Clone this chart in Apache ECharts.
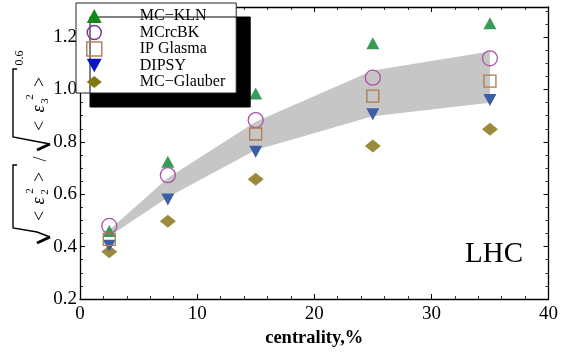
<!DOCTYPE html>
<html>
<head>
<meta charset="utf-8">
<script src="https://cdn.jsdelivr.net/npm/echarts@6/dist/echarts.min.js"></script>
<style>
  html, body { margin: 0; padding: 0; background: #fff; }
  #chart { width: 561px; height: 354px; }
</style>
</head>
<body>
<div id="chart"></div>
<script>
// Centrality bins (%)
const centrality = [2.5, 7.5, 15, 25, 35];
const ipCentrality = [2.5, 15, 25, 35];

// Eccentricity ratio sqrt(<e2^2>) / sqrt(<e3^2>)^0.6 per model
const mcKln     = [0.460, 0.724, 0.985, 1.177, 1.253];
const mcRcBk    = [0.479, 0.673, 0.883, 1.045, 1.119];
const ipGlasma  = [0.428, 0.830, 0.975, 1.032];
const dipsy     = [0.403, 0.580, 0.762, 0.905, 0.960];
const mcGlauber = [0.380, 0.497, 0.657, 0.784, 0.848];

// Grey band (lower / upper edge)
const bandLow  = [0.440, 0.589, 0.769, 0.898, 0.949];
const bandHigh = [0.463, 0.662, 0.877, 1.073, 1.145];

const xTicks = { min: 0, max: 40, step: 10 };
const yTicks = { min: 0.2, max: 1.315, step: 0.2 };

const seriesNames = ['MC\u2212KLN', 'MCrcBK', 'IP Glasma', 'DIPSY', 'MC\u2212Glauber'];

const SERIF = '"Liberation Serif", "Times New Roman", serif';
const pairs = (xs, ys) => xs.map((x, i) => [x, ys[i]]);
const invTriangle = 'path://M0,0 L10,0 L5,9 Z';
const diamond = 'path://M5,0 L10,4 L5,8 L0,4 Z';

const chart = echarts.init(document.getElementById('chart'), null, { renderer: 'canvas' });

const axisCommon = {
  axisLine: { show: true, onZero: false, lineStyle: { color: '#000', width: 1.3 } },
  axisTick: { show: true, inside: true, length: 5, lineStyle: { color: '#000', width: 1 } },
  minorTick: { show: true, length: 3, lineStyle: { color: '#000', width: 0.8 } },
  splitLine: { show: false },
  minorSplitLine: { show: false }
};

const rotText = (t, x, y, font) => ({
  type: 'text', x: x, y: y, rotation: Math.PI / 2, z: 10,
  style: { text: t, font: font, fill: '#000', align: 'center', verticalAlign: 'middle' }
});
const MAIN = '18px ' + SERIF;
const EPS = 'italic 18px ' + SERIF;
const SMALL = '11px ' + SERIF;

// Band drawn as one polygon: lower edge forward, upper edge backward
function renderBand(params, api) {
  if (params.dataIndex !== 0) return null;
  const pts = [];
  for (let i = 0; i < centrality.length; i++) pts.push(api.coord([centrality[i], bandLow[i]]));
  for (let i = centrality.length - 1; i >= 0; i--) pts.push(api.coord([centrality[i], bandHigh[i]]));
  return {
    type: 'polygon',
    shape: { points: pts },
    style: { fill: '#c6c6c6', stroke: null }
  };
}

const option = {
  backgroundColor: '#fff',
  animation: false,
  grid: { left: 80, right: 11, top: 7, bottom: 55, containLabel: false },
  legend: {
    orient: 'vertical',
    left: 76, top: 3,
    padding: [5, 11, 3, 10],
    itemGap: 0.5,
    itemWidth: 15, itemHeight: 14,
    backgroundColor: '#fff',
    borderColor: '#222', borderWidth: 1,
    shadowColor: '#000', shadowBlur: 0, shadowOffsetX: 14, shadowOffsetY: 14,
    formatter: name => '{t|' + name + '}',
    textStyle: {
      rich: { t: { fontFamily: SERIF, fontSize: 16, color: '#000', padding: [0, 0, 0, 33], lineHeight: 16.5 } }
    },
    data: [
      { name: seriesNames[0], itemStyle: { color: '#128a18', borderWidth: 0 } },
      { name: seriesNames[1], itemStyle: { color: 'rgba(0,0,0,0)', borderColor: '#7a3a96', borderWidth: 1.5 } },
      { name: seriesNames[2], itemStyle: { color: 'rgba(0,0,0,0)', borderColor: '#b38060', borderWidth: 1.5 } },
      { name: seriesNames[3], itemStyle: { color: '#0a14c4', borderWidth: 0 } },
      { name: seriesNames[4], itemStyle: { color: '#7e7a14', borderWidth: 0 } }
    ]
  },
  xAxis: [
    Object.assign({}, axisCommon, {
      type: 'value', position: 'bottom',
      min: xTicks.min, max: xTicks.max, interval: xTicks.step,
      minorTick: Object.assign({}, axisCommon.minorTick, { splitNumber: 5 }),
      axisLabel: { fontFamily: SERIF, fontSize: 19, color: '#000', margin: 6 },
      name: 'centrality,%', nameLocation: 'middle', nameGap: 28,
      nameTextStyle: { fontFamily: SERIF, fontSize: 18.5, fontWeight: 'bold', color: '#000' }
    }),
    Object.assign({}, axisCommon, {
      type: 'value', position: 'top',
      min: xTicks.min, max: xTicks.max, interval: xTicks.step,
      minorTick: Object.assign({}, axisCommon.minorTick, { splitNumber: 5 }),
      axisLabel: { show: false }
    })
  ],
  yAxis: [
    Object.assign({}, axisCommon, {
      type: 'value', position: 'left',
      min: yTicks.min, max: yTicks.max, interval: yTicks.step,
      minorTick: Object.assign({}, axisCommon.minorTick, { splitNumber: 4 }),
      axisLabel: { fontFamily: SERIF, fontSize: 19, color: '#000', margin: 3, showMaxLabel: false,
                   formatter: v => v.toFixed(1) }
    }),
    Object.assign({}, axisCommon, {
      type: 'value', position: 'right',
      min: yTicks.min, max: yTicks.max, interval: yTicks.step,
      minorTick: Object.assign({}, axisCommon.minorTick, { splitNumber: 4 }),
      axisLabel: { show: false }
    })
  ],
  series: [
    {
      name: 'band', type: 'custom', z: 1, silent: true,
      renderItem: renderBand,
      data: pairs(centrality, bandLow),
      clip: true
    },
    {
      name: seriesNames[0], type: 'scatter', z: 3,
      data: pairs(centrality, mcKln), symbol: 'triangle', symbolSize: [13, 12],
      itemStyle: { color: '#3a9a58', opacity: 1 }
    },
    {
      name: seriesNames[1], type: 'scatter', z: 3,
      data: pairs(centrality, mcRcBk), symbol: 'circle', symbolSize: 15,
      itemStyle: { color: 'rgba(0,0,0,0)', borderColor: '#a853a8', borderWidth: 1.3, opacity: 1 }
    },
    {
      name: seriesNames[2], type: 'scatter', z: 4,
      data: pairs(ipCentrality, ipGlasma), symbol: 'rect', symbolSize: 12,
      itemStyle: { color: 'rgba(0,0,0,0)', borderColor: '#b07a4c', borderWidth: 1.3, opacity: 1 }
    },
    {
      name: seriesNames[3], type: 'scatter', z: 3,
      data: pairs(centrality, dipsy), symbol: invTriangle, symbolSize: [13, 12],
      itemStyle: { color: '#3c5ea6', opacity: 1 }
    },
    {
      name: seriesNames[4], type: 'scatter', z: 2,
      data: pairs(centrality, mcGlauber), symbol: diamond, symbolSize: [16, 13],
      itemStyle: { color: '#9c8a3c', opacity: 1 }
    }
  ],
  graphic: [
    // "LHC" tag
    { type: 'text', left: 465, top: 240, z: 10,
      style: { text: 'LHC', font: '29px ' + SERIF, fill: '#000' } },
    // y-axis title: sqrt(<e2^2>) / sqrt(<e3^2>)^0.6, read bottom to top
    { type: 'polyline', z: 10, shape: { points: [[17, 165], [13, 165], [13, 228], [37, 232], [50, 237]] },
      style: { stroke: '#000', lineWidth: 1.4, fill: null } },
    { type: 'polyline', z: 10, shape: { points: [[50, 237], [37, 243]] },
      style: { stroke: '#000', lineWidth: 3, fill: null } },
    { type: 'polyline', z: 10, shape: { points: [[17, 69], [13, 69], [13, 137], [34, 141], [50, 144]] },
      style: { stroke: '#000', lineWidth: 1.4, fill: null } },
    { type: 'polyline', z: 10, shape: { points: [[50, 144], [37, 150]] },
      style: { stroke: '#000', lineWidth: 3, fill: null } },
    rotText('<', 40, 216, MAIN),
    rotText('\u03b5', 39, 201, EPS),
    rotText('2', 45, 192, SMALL),
    rotText('2', 30, 191, SMALL),
    rotText('>', 40, 177, MAIN),
    rotText('/', 41, 159, MAIN),
    rotText('<', 40, 126, MAIN),
    rotText('\u03b5', 39, 109, EPS),
    rotText('3', 45, 101, SMALL),
    rotText('2', 30, 97, SMALL),
    rotText('>', 40, 82, MAIN),
    rotText('0.6', 20, 58, '12px ' + SERIF)
  ]
};

chart.setOption(option);
</script>
</body>
</html>
